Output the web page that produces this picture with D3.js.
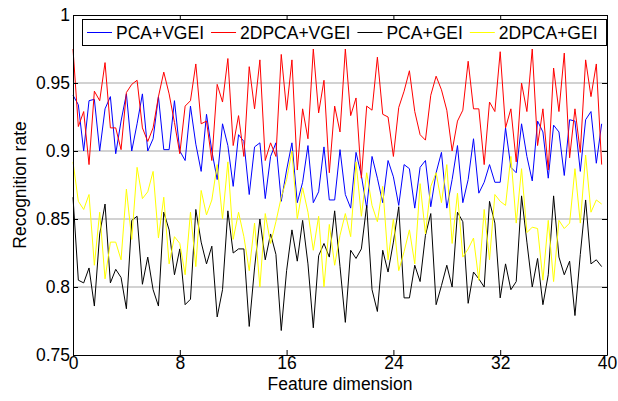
<!DOCTYPE html>
<html>
<head>
<meta charset="utf-8">
<script src="https://cdn.jsdelivr.net/npm/d3@7/dist/d3.min.js"></script>
<style>
	body { margin: 0; background: #fff; }
	text { font-family: "Liberation Sans", Arial, sans-serif; font-size: 17.5px; fill: #000; }
</style>
</head>
<body>
<svg id="chart" width="618" height="401"></svg>
<script>
// Feature dimension runs 0, 0.4, ... 39.6 (100 samples)
const featureDims = d3.range(100).map(i => +(i * 0.4).toFixed(1));

const pcaVgei = [
	0.941, 0.934, 0.900, 0.937, 0.938, 0.900, 0.931, 0.940, 0.898, 0.922,
	0.942, 0.900, 0.920, 0.942, 0.900, 0.909, 0.940, 0.901, 0.901, 0.937,
	0.900, 0.893, 0.933, 0.905, 0.885, 0.927, 0.900, 0.879, 0.920, 0.904,
	0.874, 0.912, 0.907, 0.868, 0.903, 0.906, 0.865, 0.896, 0.906, 0.863,
	0.886, 0.906, 0.862, 0.877, 0.904, 0.862, 0.870, 0.903, 0.864, 0.864,
	0.901, 0.868, 0.858, 0.899, 0.882, 0.858, 0.896, 0.880, 0.862, 0.893,
	0.881, 0.860, 0.890, 0.887, 0.858, 0.888, 0.893, 0.859, 0.884, 0.899,
	0.858, 0.879, 0.904, 0.862, 0.879, 0.909, 0.869, 0.877, 0.890, 0.877,
	0.877, 0.917, 0.888, 0.884, 0.920, 0.896, 0.878, 0.922, 0.914, 0.880,
	0.919, 0.914, 0.882, 0.923, 0.922, 0.885, 0.923, 0.929, 0.891, 0.920
];

const dpcaVgei = [
	0.975, 0.918, 0.929, 0.890, 0.944, 0.937, 0.965, 0.917, 0.917, 0.901,
	0.943, 0.949, 0.952, 0.917, 0.907, 0.917, 0.940, 0.958, 0.942, 0.921,
	0.898, 0.933, 0.937, 0.964, 0.920, 0.922, 0.893, 0.949, 0.936, 0.968,
	0.904, 0.926, 0.896, 0.962, 0.931, 0.967, 0.893, 0.906, 0.896, 0.971,
	0.930, 0.967, 0.886, 0.931, 0.909, 0.975, 0.928, 0.952, 0.884, 0.933,
	0.914, 0.975, 0.926, 0.939, 0.880, 0.933, 0.930, 0.969, 0.927, 0.925,
	0.896, 0.932, 0.944, 0.959, 0.929, 0.912, 0.908, 0.941, 0.955, 0.945,
	0.930, 0.900, 0.922, 0.930, 0.966, 0.931, 0.931, 0.890, 0.936, 0.929,
	0.973, 0.917, 0.931, 0.892, 0.950, 0.929, 0.975, 0.904, 0.931, 0.886,
	0.961, 0.929, 0.972, 0.895, 0.931, 0.899, 0.967, 0.940, 0.964, 0.890
];

const pcaGei = [
	0.866, 0.805, 0.803, 0.814, 0.786, 0.839, 0.861, 0.803, 0.813, 0.807,
	0.784, 0.849, 0.852, 0.802, 0.822, 0.798, 0.786, 0.855, 0.842, 0.809,
	0.828, 0.787, 0.791, 0.857, 0.833, 0.817, 0.830, 0.778, 0.798, 0.856,
	0.825, 0.828, 0.828, 0.771, 0.814, 0.850, 0.820, 0.839, 0.824, 0.768,
	0.812, 0.842, 0.819, 0.849, 0.817, 0.770, 0.823, 0.832, 0.822, 0.856,
	0.815, 0.774, 0.827, 0.821, 0.828, 0.860, 0.798, 0.782, 0.827, 0.811,
	0.833, 0.859, 0.792, 0.792, 0.816, 0.804, 0.838, 0.854, 0.787, 0.801,
	0.816, 0.800, 0.855, 0.848, 0.788, 0.811, 0.806, 0.800, 0.863, 0.847,
	0.792, 0.817, 0.798, 0.804, 0.867, 0.833, 0.800, 0.821, 0.787, 0.809,
	0.867, 0.822, 0.809, 0.819, 0.779, 0.824, 0.864, 0.817, 0.820, 0.815
];

const dpcaGei = [
	0.892, 0.863, 0.857, 0.868, 0.816, 0.855, 0.806, 0.833, 0.833, 0.820,
	0.872, 0.835, 0.888, 0.865, 0.870, 0.885, 0.836, 0.866, 0.817, 0.837,
	0.832, 0.809, 0.855, 0.815, 0.871, 0.853, 0.864, 0.890, 0.850, 0.892,
	0.835, 0.855, 0.837, 0.812, 0.847, 0.800, 0.854, 0.832, 0.848, 0.866,
	0.879, 0.900, 0.850, 0.873, 0.855, 0.827, 0.852, 0.800, 0.846, 0.816,
	0.838, 0.854, 0.837, 0.892, 0.852, 0.884, 0.860, 0.848, 0.874, 0.820,
	0.850, 0.812, 0.826, 0.842, 0.817, 0.876, 0.839, 0.874, 0.884, 0.862,
	0.890, 0.832, 0.869, 0.822, 0.828, 0.836, 0.805, 0.857, 0.820, 0.868,
	0.863, 0.860, 0.896, 0.847, 0.887, 0.840, 0.844, 0.843, 0.805, 0.849,
	0.804, 0.849, 0.843, 0.847, 0.887, 0.847, 0.897, 0.855, 0.864, 0.861
];

const seriesNames = ["PCA+VGEI", "2DPCA+VGEI", "PCA+GEI", "2DPCA+GEI"];
const seriesColors = ["#0000ff", "#ff0000", "#000000", "#ffff00"];
const seriesValues = [pcaVgei, dpcaVgei, pcaGei, dpcaGei];

const xTicks = [0, 8, 16, 24, 32, 40];
const yTicks = [0.75, 0.8, 0.85, 0.9, 0.95, 1];
const gridLevels = [0.8, 0.85, 0.9, 0.95];

const svg = d3.select("#chart");
const plot = { left: 73, right: 607, top: 15, bottom: 355 };

const x = d3.scaleLinear().domain([0, 40]).range([plot.left, plot.right]);
const y = d3.scaleLinear().domain([0.75, 1]).range([plot.bottom, plot.top]);

// horizontal grid lines only
svg.append("g")
	.selectAll("line")
	.data(gridLevels)
	.enter().append("line")
	.attr("x1", plot.left).attr("x2", plot.right)
	.attr("y1", d => y(d)).attr("y2", d => y(d))
	.attr("stroke", "#a6a6a6")
	.attr("stroke-width", 1.2);

// data lines, drawn in legend order so yellow ends on top
const line = d3.line()
	.x((d, i) => x(featureDims[i]))
	.y(d => y(d));

svg.append("g")
	.selectAll("path")
	.data(seriesValues)
	.enter().append("path")
	.attr("fill", "none")
	.attr("stroke", (d, i) => seriesColors[i])
	.attr("stroke-width", 1)
	.attr("stroke-linejoin", "miter")
	.attr("d", line);

// axes with inward ticks on all four sides
function styleAxis(g) {
	g.select(".domain").attr("stroke", "#000").attr("stroke-width", 1);
	g.selectAll(".tick line").attr("stroke", "#000");
	g.selectAll(".tick text")
		.attr("font-family", null)
		.attr("font-size", null)
		.attr("fill", "#000");
}

svg.append("g")
	.attr("transform", `translate(0,${plot.bottom})`)
	.call(d3.axisBottom(x).tickValues(xTicks).tickSizeInner(-5).tickSizeOuter(0).tickPadding(2))
	.call(styleAxis);

svg.append("g")
	.attr("transform", `translate(0,${plot.top})`)
	.call(d3.axisTop(x).tickValues(xTicks).tickSizeInner(-5).tickSizeOuter(0).tickFormat(""))
	.call(styleAxis);

svg.append("g")
	.attr("transform", `translate(${plot.left},0)`)
	.call(d3.axisLeft(y).tickValues(yTicks).tickSizeInner(-5).tickSizeOuter(0).tickPadding(3)
		.tickFormat(d => String(d)))
	.call(styleAxis);

svg.append("g")
	.attr("transform", `translate(${plot.right},0)`)
	.call(d3.axisRight(y).tickValues(yTicks).tickSizeInner(-5).tickSizeOuter(0).tickFormat(""))
	.call(styleAxis);

// axis titles
svg.append("text")
	.attr("x", (plot.left + plot.right) / 2)
	.attr("y", 390)
	.attr("text-anchor", "middle")
	.text("Feature dimension");

svg.append("text")
	.attr("transform", `translate(26,${(plot.top + plot.bottom) / 2}) rotate(-90)`)
	.attr("text-anchor", "middle")
	.text("Recognition rate");

// legend: one row inside a box at the top
const legend = svg.append("g");
const legendBox = legend.append("rect")
	.attr("fill", "#fff")
	.attr("stroke", "#000")
	.attr("stroke-width", 1);

const legendY = 32.5;
let cursor = 87;
seriesNames.forEach((name, i) => {
	legend.append("line")
		.attr("x1", cursor).attr("x2", cursor + 25)
		.attr("y1", legendY).attr("y2", legendY)
		.attr("stroke", seriesColors[i])
		.attr("stroke-width", 1);
	const t = legend.append("text")
		.attr("x", cursor + 29)
		.attr("y", legendY)
		.attr("dy", "0.35em")
		.text(name);
	cursor = cursor + 29 + t.node().getComputedTextLength() + 7;
});

legendBox
	.attr("x", 82.5).attr("y", 19.5)
	.attr("width", cursor + 2 - 82.5)
	.attr("height", 26);
</script>
</body>
</html>
